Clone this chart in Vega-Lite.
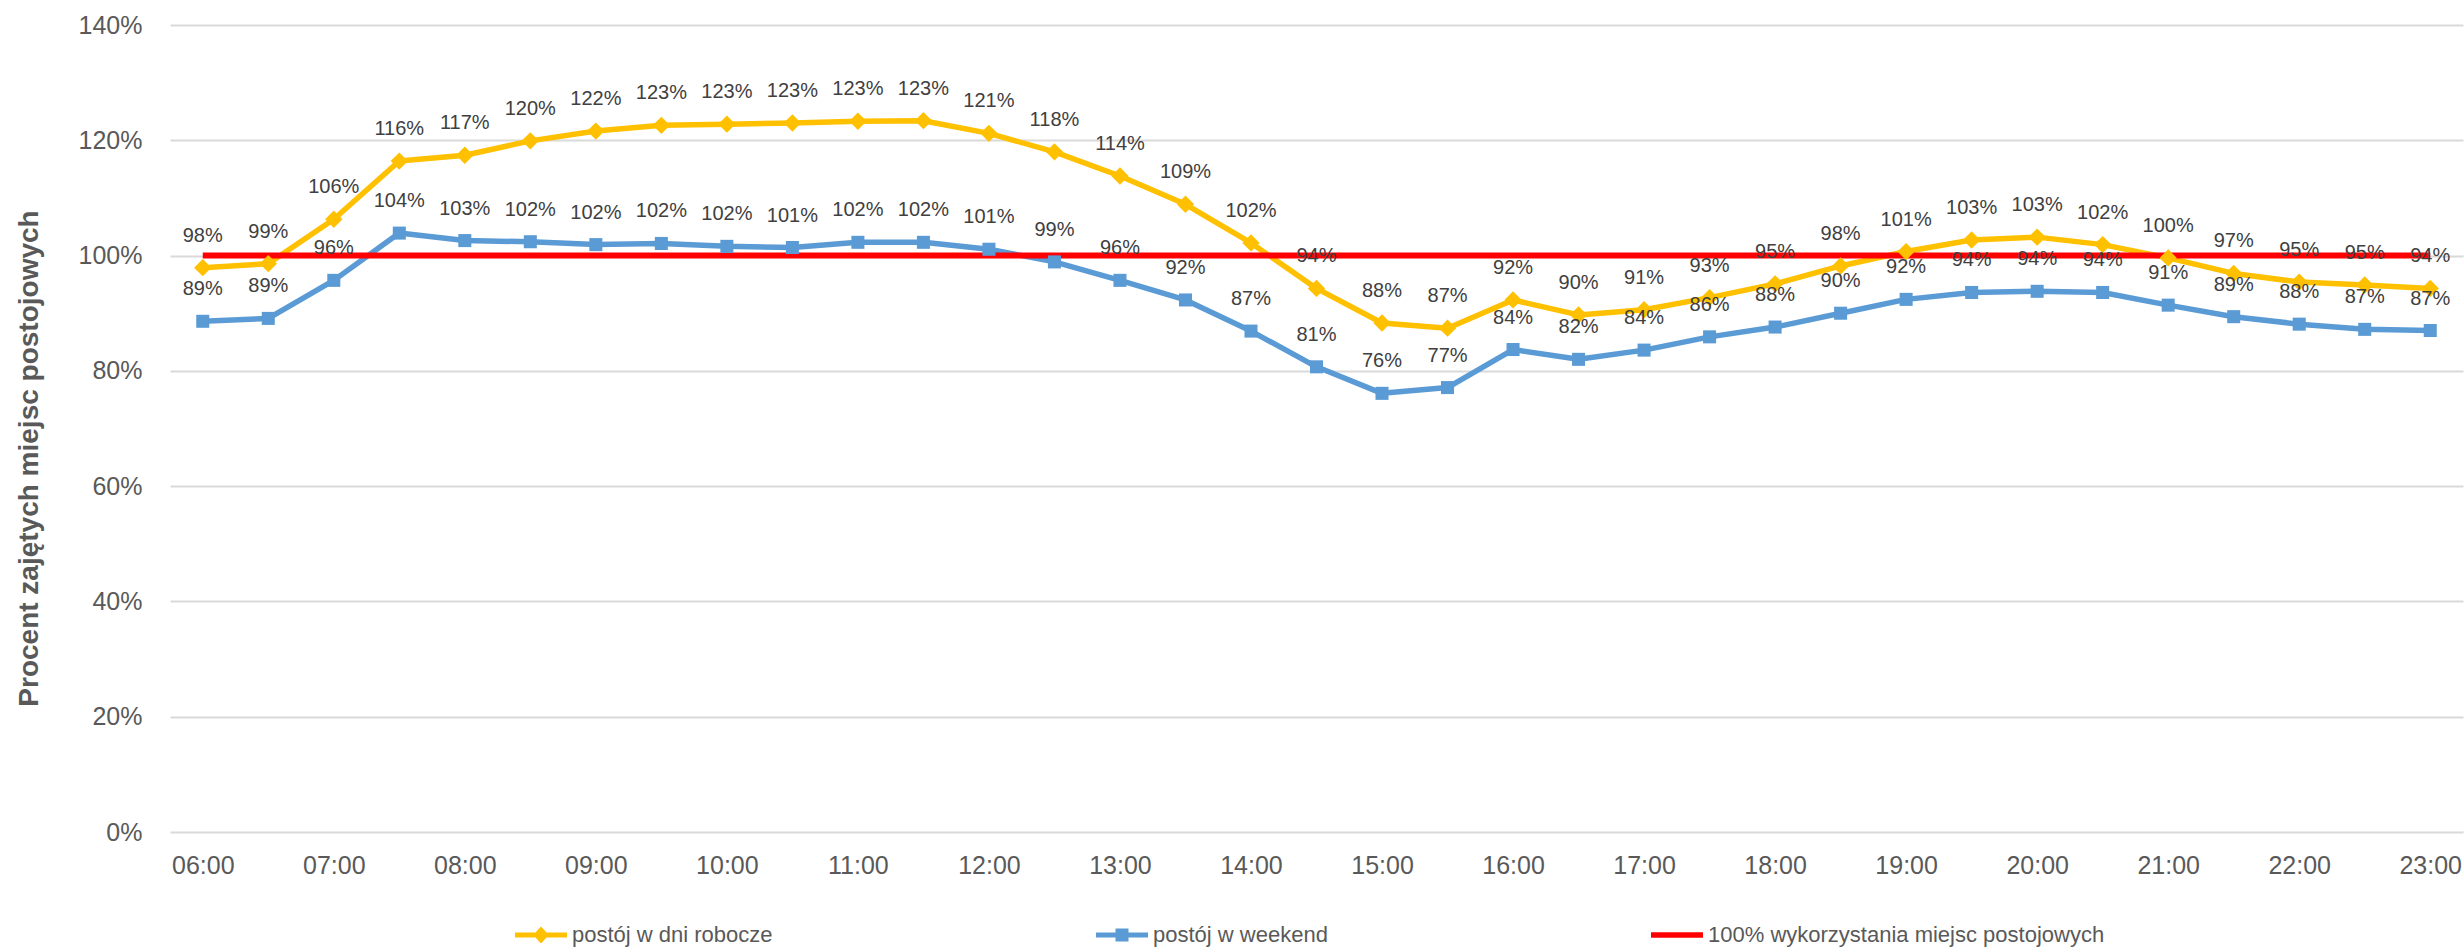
{
  "$schema": "https://vega.github.io/schema/vega-lite/v6.json",
  "width": 2293,
  "height": 807,
  "autosize": "none",
  "padding": {"left": 170, "top": 25, "right": 1, "bottom": 117},
  "background": "white",
  "config": {
    "view": {"stroke": null},
    "axis": {"labelFont": "Liberation Sans, Arial, sans-serif", "labelFontSize": 25, "labelColor": "#595959", "ticks": false, "domain": false}
  },
  "data": {"values": [
    {"godzina": "06:00", "seria": "postój w dni robocze", "wartosc": 0.979},
    {"godzina": "06:30", "seria": "postój w dni robocze", "wartosc": 0.986},
    {"godzina": "07:00", "seria": "postój w dni robocze", "wartosc": 1.063},
    {"godzina": "07:30", "seria": "postój w dni robocze", "wartosc": 1.164},
    {"godzina": "08:00", "seria": "postój w dni robocze", "wartosc": 1.174},
    {"godzina": "08:30", "seria": "postój w dni robocze", "wartosc": 1.199},
    {"godzina": "09:00", "seria": "postój w dni robocze", "wartosc": 1.216},
    {"godzina": "09:30", "seria": "postój w dni robocze", "wartosc": 1.226},
    {"godzina": "10:00", "seria": "postój w dni robocze", "wartosc": 1.228},
    {"godzina": "10:30", "seria": "postój w dni robocze", "wartosc": 1.23},
    {"godzina": "11:00", "seria": "postój w dni robocze", "wartosc": 1.233},
    {"godzina": "11:30", "seria": "postój w dni robocze", "wartosc": 1.234},
    {"godzina": "12:00", "seria": "postój w dni robocze", "wartosc": 1.212},
    {"godzina": "12:30", "seria": "postój w dni robocze", "wartosc": 1.18},
    {"godzina": "13:00", "seria": "postój w dni robocze", "wartosc": 1.138},
    {"godzina": "13:30", "seria": "postój w dni robocze", "wartosc": 1.089},
    {"godzina": "14:00", "seria": "postój w dni robocze", "wartosc": 1.022},
    {"godzina": "14:30", "seria": "postój w dni robocze", "wartosc": 0.943},
    {"godzina": "15:00", "seria": "postój w dni robocze", "wartosc": 0.883},
    {"godzina": "15:30", "seria": "postój w dni robocze", "wartosc": 0.874},
    {"godzina": "16:00", "seria": "postój w dni robocze", "wartosc": 0.923},
    {"godzina": "16:30", "seria": "postój w dni robocze", "wartosc": 0.897},
    {"godzina": "17:00", "seria": "postój w dni robocze", "wartosc": 0.906},
    {"godzina": "17:30", "seria": "postój w dni robocze", "wartosc": 0.927},
    {"godzina": "18:00", "seria": "postój w dni robocze", "wartosc": 0.951},
    {"godzina": "18:30", "seria": "postój w dni robocze", "wartosc": 0.982},
    {"godzina": "19:00", "seria": "postój w dni robocze", "wartosc": 1.007},
    {"godzina": "19:30", "seria": "postój w dni robocze", "wartosc": 1.027},
    {"godzina": "20:00", "seria": "postój w dni robocze", "wartosc": 1.032},
    {"godzina": "20:30", "seria": "postój w dni robocze", "wartosc": 1.019},
    {"godzina": "21:00", "seria": "postój w dni robocze", "wartosc": 0.996},
    {"godzina": "21:30", "seria": "postój w dni robocze", "wartosc": 0.969},
    {"godzina": "22:00", "seria": "postój w dni robocze", "wartosc": 0.954},
    {"godzina": "22:30", "seria": "postój w dni robocze", "wartosc": 0.949},
    {"godzina": "23:00", "seria": "postój w dni robocze", "wartosc": 0.943},
    {"godzina": "06:00", "seria": "postój w weekend", "wartosc": 0.886},
    {"godzina": "06:30", "seria": "postój w weekend", "wartosc": 0.891},
    {"godzina": "07:00", "seria": "postój w weekend", "wartosc": 0.957},
    {"godzina": "07:30", "seria": "postój w weekend", "wartosc": 1.039},
    {"godzina": "08:00", "seria": "postój w weekend", "wartosc": 1.026},
    {"godzina": "08:30", "seria": "postój w weekend", "wartosc": 1.024},
    {"godzina": "09:00", "seria": "postój w weekend", "wartosc": 1.019},
    {"godzina": "09:30", "seria": "postój w weekend", "wartosc": 1.021},
    {"godzina": "10:00", "seria": "postój w weekend", "wartosc": 1.016},
    {"godzina": "10:30", "seria": "postój w weekend", "wartosc": 1.014},
    {"godzina": "11:00", "seria": "postój w weekend", "wartosc": 1.023},
    {"godzina": "11:30", "seria": "postój w weekend", "wartosc": 1.023},
    {"godzina": "12:00", "seria": "postój w weekend", "wartosc": 1.011},
    {"godzina": "12:30", "seria": "postój w weekend", "wartosc": 0.989},
    {"godzina": "13:00", "seria": "postój w weekend", "wartosc": 0.957},
    {"godzina": "13:30", "seria": "postój w weekend", "wartosc": 0.923},
    {"godzina": "14:00", "seria": "postój w weekend", "wartosc": 0.869},
    {"godzina": "14:30", "seria": "postój w weekend", "wartosc": 0.807},
    {"godzina": "15:00", "seria": "postój w weekend", "wartosc": 0.761},
    {"godzina": "15:30", "seria": "postój w weekend", "wartosc": 0.771},
    {"godzina": "16:00", "seria": "postój w weekend", "wartosc": 0.837},
    {"godzina": "16:30", "seria": "postój w weekend", "wartosc": 0.82},
    {"godzina": "17:00", "seria": "postój w weekend", "wartosc": 0.836},
    {"godzina": "17:30", "seria": "postój w weekend", "wartosc": 0.859},
    {"godzina": "18:00", "seria": "postój w weekend", "wartosc": 0.876},
    {"godzina": "18:30", "seria": "postój w weekend", "wartosc": 0.9},
    {"godzina": "19:00", "seria": "postój w weekend", "wartosc": 0.924},
    {"godzina": "19:30", "seria": "postój w weekend", "wartosc": 0.936},
    {"godzina": "20:00", "seria": "postój w weekend", "wartosc": 0.938},
    {"godzina": "20:30", "seria": "postój w weekend", "wartosc": 0.936},
    {"godzina": "21:00", "seria": "postój w weekend", "wartosc": 0.914},
    {"godzina": "21:30", "seria": "postój w weekend", "wartosc": 0.894},
    {"godzina": "22:00", "seria": "postój w weekend", "wartosc": 0.881},
    {"godzina": "22:30", "seria": "postój w weekend", "wartosc": 0.872},
    {"godzina": "23:00", "seria": "postój w weekend", "wartosc": 0.87},
    {"godzina": "06:00", "seria": "100% wykorzystania miejsc postojowych", "wartosc": 1},
    {"godzina": "06:30", "seria": "100% wykorzystania miejsc postojowych", "wartosc": 1},
    {"godzina": "07:00", "seria": "100% wykorzystania miejsc postojowych", "wartosc": 1},
    {"godzina": "07:30", "seria": "100% wykorzystania miejsc postojowych", "wartosc": 1},
    {"godzina": "08:00", "seria": "100% wykorzystania miejsc postojowych", "wartosc": 1},
    {"godzina": "08:30", "seria": "100% wykorzystania miejsc postojowych", "wartosc": 1},
    {"godzina": "09:00", "seria": "100% wykorzystania miejsc postojowych", "wartosc": 1},
    {"godzina": "09:30", "seria": "100% wykorzystania miejsc postojowych", "wartosc": 1},
    {"godzina": "10:00", "seria": "100% wykorzystania miejsc postojowych", "wartosc": 1},
    {"godzina": "10:30", "seria": "100% wykorzystania miejsc postojowych", "wartosc": 1},
    {"godzina": "11:00", "seria": "100% wykorzystania miejsc postojowych", "wartosc": 1},
    {"godzina": "11:30", "seria": "100% wykorzystania miejsc postojowych", "wartosc": 1},
    {"godzina": "12:00", "seria": "100% wykorzystania miejsc postojowych", "wartosc": 1},
    {"godzina": "12:30", "seria": "100% wykorzystania miejsc postojowych", "wartosc": 1},
    {"godzina": "13:00", "seria": "100% wykorzystania miejsc postojowych", "wartosc": 1},
    {"godzina": "13:30", "seria": "100% wykorzystania miejsc postojowych", "wartosc": 1},
    {"godzina": "14:00", "seria": "100% wykorzystania miejsc postojowych", "wartosc": 1},
    {"godzina": "14:30", "seria": "100% wykorzystania miejsc postojowych", "wartosc": 1},
    {"godzina": "15:00", "seria": "100% wykorzystania miejsc postojowych", "wartosc": 1},
    {"godzina": "15:30", "seria": "100% wykorzystania miejsc postojowych", "wartosc": 1},
    {"godzina": "16:00", "seria": "100% wykorzystania miejsc postojowych", "wartosc": 1},
    {"godzina": "16:30", "seria": "100% wykorzystania miejsc postojowych", "wartosc": 1},
    {"godzina": "17:00", "seria": "100% wykorzystania miejsc postojowych", "wartosc": 1},
    {"godzina": "17:30", "seria": "100% wykorzystania miejsc postojowych", "wartosc": 1},
    {"godzina": "18:00", "seria": "100% wykorzystania miejsc postojowych", "wartosc": 1},
    {"godzina": "18:30", "seria": "100% wykorzystania miejsc postojowych", "wartosc": 1},
    {"godzina": "19:00", "seria": "100% wykorzystania miejsc postojowych", "wartosc": 1},
    {"godzina": "19:30", "seria": "100% wykorzystania miejsc postojowych", "wartosc": 1},
    {"godzina": "20:00", "seria": "100% wykorzystania miejsc postojowych", "wartosc": 1},
    {"godzina": "20:30", "seria": "100% wykorzystania miejsc postojowych", "wartosc": 1},
    {"godzina": "21:00", "seria": "100% wykorzystania miejsc postojowych", "wartosc": 1},
    {"godzina": "21:30", "seria": "100% wykorzystania miejsc postojowych", "wartosc": 1},
    {"godzina": "22:00", "seria": "100% wykorzystania miejsc postojowych", "wartosc": 1},
    {"godzina": "22:30", "seria": "100% wykorzystania miejsc postojowych", "wartosc": 1},
    {"godzina": "23:00", "seria": "100% wykorzystania miejsc postojowych", "wartosc": 1}
  ]},
  "encoding": {
    "x": {
      "field": "godzina", "type": "ordinal",
      "scale": {"type": "point", "padding": 0.5},
      "axis": {
        "title": null, "labelAngle": 0, "labelPadding": 21, "grid": false,
        "values": ["06:00","07:00","08:00","09:00","10:00","11:00","12:00","13:00","14:00","15:00","16:00","17:00","18:00","19:00","20:00","21:00","22:00","23:00"]
      }
    },
    "y": {
      "field": "wartosc", "type": "quantitative",
      "scale": {"domain": [0, 1.4], "nice": false, "zero": true},
      "axis": {
        "values": [0, 0.2, 0.4, 0.6, 0.8, 1.0, 1.2, 1.4], "format": ".0%",
        "grid": true, "gridColor": "#D9D9D9", "gridWidth": 2, "labelPadding": 28,
        "title": "Procent zajętych miejsc postojowych",
        "titleFont": "Liberation Sans, Arial, sans-serif", "titleFontSize": 28, "titleFontWeight": "bold", "titleColor": "#595959",
        "titleAngle": -90, "titleX": -141, "titleY": 433, "titleAlign": "center", "titleBaseline": "middle"
      }
    },
    "color": {
      "field": "seria", "type": "nominal",
      "scale": {
        "domain": ["postój w dni robocze", "postój w weekend", "100% wykorzystania miejsc postojowych"],
        "range": ["#FFC000", "#5B9BD5", "#FF0000"]
      },
      "legend": {
        "title": null, "orient": "none", "legendX": 345, "legendY": 884, "direction": "horizontal",
        "padding": 0, "columnPadding": 323, "symbolSize": 2704, "symbolType": "square",
        "labelFont": "Liberation Sans, Arial, sans-serif", "labelFontSize": 22, "labelColor": "#595959",
        "labelOffset": 5, "labelLimit": 1000,
        "encode": {
          "symbols": {
            "update": {
              "shape": {"signal": "datum.value === 'postój w dni robocze' ? 'M-1,-0.1H1V0.1H-1Z M0,-0.33L0.3,0L0,0.33L-0.3,0Z' : (datum.value === 'postój w weekend' ? 'M-1,-0.1H1V0.1H-1Z M-0.25,-0.25H0.25V0.25H-0.25Z' : 'M-1,-0.11H1V0.11H-1Z')"},
              "fill": {"scale": "color", "field": "value"},
              "stroke": {"value": "transparent"},
              "strokeWidth": {"value": 0},
              "opacity": {"value": 1}
            }
          }
        }
      }
    }
  },
  "layer": [
    {
      "transform": [{"filter": "datum.seria !== '100% wykorzystania miejsc postojowych'"}],
      "mark": {"type": "line", "strokeWidth": 5.5, "strokeJoin": "round"}
    },
    {
      "transform": [{"filter": "datum.seria === '100% wykorzystania miejsc postojowych'"}],
      "mark": {"type": "line", "strokeWidth": 6}
    },
    {
      "transform": [{"filter": "datum.seria !== '100% wykorzystania miejsc postojowych'"}],
      "mark": {"type": "point", "filled": true, "opacity": 1},
      "encoding": {
        "shape": {"field": "seria", "type": "nominal", "scale": {"domain": ["postój w dni robocze", "postój w weekend"], "range": ["diamond", "square"]}, "legend": null},
        "size": {"field": "seria", "type": "nominal", "scale": {"domain": ["postój w dni robocze", "postój w weekend"], "range": [300, 170]}, "legend": null}
      }
    },
    {
      "transform": [{"filter": "datum.seria !== '100% wykorzystania miejsc postojowych'"}],
      "mark": {"type": "text", "dy": -32, "baseline": "middle", "align": "center", "font": "Liberation Sans, Arial, sans-serif", "fontSize": 20},
      "encoding": {
        "text": {"field": "wartosc", "type": "quantitative", "format": ".0%"},
        "color": {"value": "#404040"}
      }
    }
  ]
}
